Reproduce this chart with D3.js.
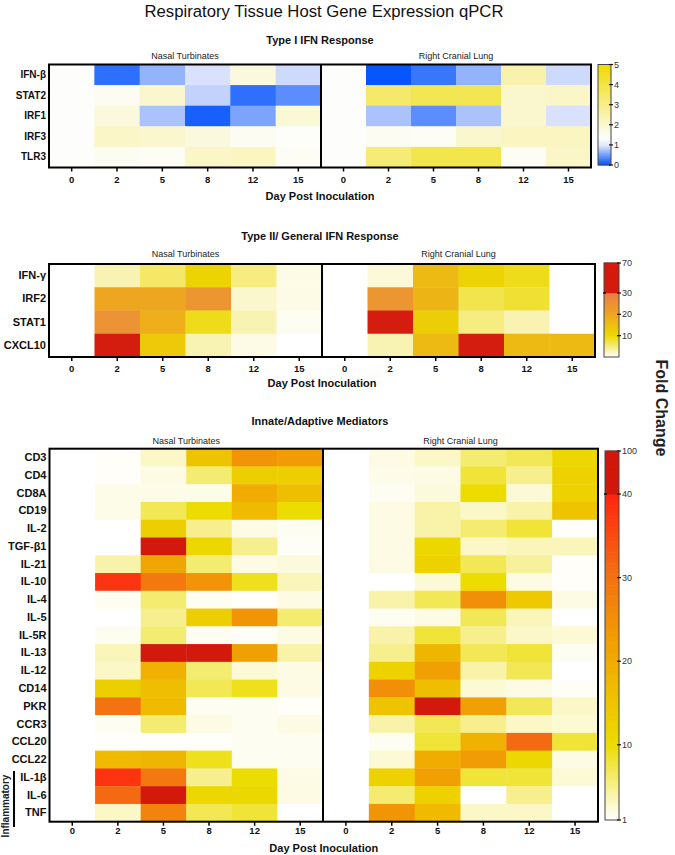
<!DOCTYPE html>
<html><head><meta charset="utf-8">
<script src="https://cdn.jsdelivr.net/npm/d3@7"></script>
<style>body{margin:0;background:#fff}svg{display:block;font-family:"Liberation Sans",Arial,sans-serif}</style>
</head><body><svg id="c" width="675" height="855"></svg>
<script>
// ---------- DATA ----------
const days = ["0","2","5","8","12","15"];
const tissues = ["Nasal Turbinates","Right Cranial Lung"];

const genes1 = ["IFN-β","STAT2","IRF1","IRF3","TLR3"];
const nt1 = [
  [1.35,0.2,0.65,0.95,1.8,0.9],
  [1.35,1.5,2.0,0.85,0.2,0.4],
  [1.35,1.8,0.75,0.1,0.55,1.9],
  [1.35,2.1,2.0,1.8,1.5,1.4],
  [1.35,1.5,1.45,2.1,2.2,1.45]];
const rcl1 = [
  [1.35,0.03,0.25,0.65,2.5,0.9],
  [1.35,3.5,3.8,3.8,2.0,2.1],
  [1.35,0.75,0.4,0.75,2.0,0.95],
  [1.35,1.5,1.45,2.0,2.2,2.2],
  [1.35,3.3,3.9,3.9,1.45,2.1]];
const ticks1 = [0,1,2,3,4,5];

const genes2 = ["IFN-γ","IRF2","STAT1","CXCL10"];
const nt2 = [
  [0,3,6,11,5,1],
  [0,20,20,24,2,1],
  [0,25,18,9,3,0.5],
  [0,45,13,3,1,0]];
const rcl2 = [
  [0,1.5,16,11,9,0],
  [0,24,17,7,8,0],
  [0,45,12,5,3,0],
  [0,3,16,50,16,16]];
const ticks2 = [10,20,30,70];

const genes3 = ["CD3","CD4","CD8A","CD19","IL-2","TGF-β1","IL-21","IL-10","IL-4","IL-5","IL-5R","IL-13","IL-12","CD14","PKR","CCR3","CCL20","CCL22","IL-1β","IL-6","TNF"];
const nt3 = [
  [1,1.2,3,15,24,23],
  [1,1.2,2,6,13,13],
  [1,1.8,1.8,1.8,20,16],
  [1,1.8,7,10,17,10],
  [1,1,13,5,2,1.5],
  [1,1,60,11,5,1.3],
  [1,4,21,6,2,2.2],
  [1,38,29,24,9,3.5],
  [1,1.5,6,1.5,1.2,2],
  [1,1,5,13,24,6],
  [1,1.5,6,1.5,1.3,2],
  [1,3.5,55,55,22,4],
  [1,3,19,6,2.5,2],
  [1,13,16,7,9,2],
  [1,30,17,1.5,1.5,1.2],
  [1,1.5,6,2,1.5,2],
  [1,1.2,1.2,1.2,1.5,1.5],
  [1,17,18,9,1.5,1.5],
  [1,38,29,5,10,2],
  [1,31,55,11,11,2],
  [1,3,27,7,8,1]];
const rcl3 = [
  [1,2,3,6,7,11],
  [1,1.8,2,8,5,12],
  [1,1.5,2.2,10,2.5,12],
  [1,2,4,3,4,15],
  [1,2,4,6,8,1.2],
  [1,2,11,3,3.5,3.5],
  [1,2,12,7,4.5,1.2],
  [1,1,2.5,10,2,1.2],
  [1,4,7,25,14,2],
  [1,1.5,2,7,3.5,1],
  [1,4,8,5,3,2.5],
  [1,5,18,7,8,1.5],
  [1,12,22,4,7,1],
  [1,25,16,2.5,2,1.3],
  [1,15,55,22,7,3],
  [1,4,7,5,3,2.5],
  [1,1.5,8,19,31,8],
  [1,2.5,20,23,11,2],
  [1,12,22,8,8,2.5],
  [1,6,12,1,5,1],
  [1,24,17,3,3,1]];
const ticks3 = [1,10,20,30,40,100];

// ---------- COLOR SCALES ----------
const c1 = d3.scaleLinear().domain([0,1,1.35,5])
  .range(["#0050ff","#e4e9fc","#fdfdfc","#eedb00"]).clamp(true);
const c2base = d3.scaleLinear().domain([0,10,20,30])
  .range(["#ffffff","#ecd800","#eea520","#e8804a"]).clamp(true);
const c2 = v => v > 30 ? "#d51d0f" : c2base(v);
const c3base = d3.scaleLinear().domain([1,10,20,30,40])
  .range(["#ffffff","#ecdc00","#f0ac00","#f37212","#ff2410"]).clamp(true);
const c3 = v => v > 40 ? "#d2190c" : c3base(v);

const svg = d3.select("#c");

svg.append("text").attr("x",324).attr("y",17).attr("text-anchor","middle")
  .attr("font-size",16.7).attr("fill","#111").text("Respiratory Tissue Host Gene Expression qPCR");

function drawPanel(p){
  const g = svg.append("g");
  const y = d3.scaleBand().domain(p.genes).range([p.y0,p.y1]);
  const xs = [
    d3.scaleBand().domain(days).range([p.x0,p.xm]),
    d3.scaleBand().domain(days).range([p.xm,p.x1])];
  [p.nt,p.rcl].forEach((mat,ti)=>{
    const x = xs[ti];
    const cells = [];
    mat.forEach((row,ri)=>row.forEach((v,ci)=>cells.push({gene:p.genes[ri],day:days[ci],v})));
    g.append("g").selectAll("rect").data(cells).join("rect")
      .attr("x",d=>x(d.day)).attr("y",d=>y(d.gene))
      .attr("width",x.bandwidth()+0.4).attr("height",y.bandwidth()+0.4)
      .attr("fill",d=>p.color(d.v));
    g.append("text").attr("x",(x.range()[0]+x.range()[1])/2).attr("y",p.subY)
      .attr("text-anchor","middle").attr("font-size",9).attr("fill","#222").text(tissues[ti]);
    const ax = g.append("g").attr("transform",`translate(0,${p.y1})`)
      .call(d3.axisBottom(x).tickSize(4).tickPadding(p.tickPad).tickSizeOuter(0));
    ax.select(".domain").remove();
    ax.selectAll("line").attr("stroke","#000").attr("stroke-width",1.5);
    ax.selectAll("text").attr("font-size",9.5).attr("font-weight","bold").attr("fill","#111")
      .attr("font-family","Liberation Sans, Arial, sans-serif");
  });
  const ay = g.append("g").attr("transform",`translate(${p.x0},0)`)
    .call(d3.axisLeft(y).tickSize(0).tickPadding(3));
  ay.select(".domain").remove();
  ay.selectAll("text").attr("font-size",p.ls).attr("font-weight","bold").attr("fill","#111")
    .attr("font-family","Liberation Sans, Arial, sans-serif");
  g.append("rect").attr("x",p.x0).attr("y",p.y0).attr("width",p.x1-p.x0).attr("height",p.y1-p.y0)
    .attr("fill","none").attr("stroke","#000").attr("stroke-width",2);
  g.append("line").attr("x1",p.xm).attr("x2",p.xm).attr("y1",p.y0).attr("y2",p.y1)
    .attr("stroke","#000").attr("stroke-width",2);
  g.append("text").attr("x",320).attr("y",p.titleY).attr("text-anchor","middle")
    .attr("font-size",11).attr("font-weight","bold").attr("fill","#111").text(p.title);
  g.append("text").attr("x",(p.x0+p.x1)/2).attr("y",p.xtY).attr("text-anchor","middle")
    .attr("font-size",11).attr("font-weight","bold").attr("fill","#111").text("Day Post Inoculation");
}

function drawBar(b){
  const g = svg.append("g");
  const pos = d3.scaleLinear().domain(b.domain).range(b.range);
  const lo = b.domain[0], hi = b.domain[b.domain.length-1];
  const n = 300;
  const vals = d3.range(n).map(i=>lo+(hi-lo)*i/n);
  const step = (hi-lo)/n;
  g.selectAll("rect.s").data(vals).join("rect").attr("class","s")
    .attr("x",b.x).attr("width",b.w)
    .attr("y",v=>pos(Math.min(v+step,hi))-0.3)
    .attr("height",v=>Math.abs(pos(v)-pos(Math.min(v+step,hi)))+0.6)
    .attr("fill",v=>b.color(v+step/2));
  g.append("rect").attr("x",b.x).attr("y",pos(hi)).attr("width",b.w).attr("height",pos(lo)-pos(hi))
    .attr("fill","none").attr("stroke","#444").attr("stroke-width",1);
  g.selectAll("line.t").data(b.ticks).join("line").attr("class","t")
    .attr("x1",b.x+b.w-2).attr("x2",b.x+b.w+2).attr("y1",pos).attr("y2",pos)
    .attr("stroke","#111").attr("stroke-width",1.2);
  if(b.breakAt!==undefined){
    g.append("line").attr("x1",b.x-1).attr("x2",b.x+2).attr("y1",pos(b.breakAt)).attr("y2",pos(b.breakAt))
      .attr("stroke","#111").attr("stroke-width",1.5);
  }
  g.selectAll("text").data(b.ticks).join("text")
    .attr("x",b.x+b.w+3).attr("y",pos).attr("dy","0.35em")
    .attr("font-size",9).attr("fill","#333").text(d=>d);
}

drawPanel({genes:genes1,nt:nt1,rcl:rcl1,color:c1,x0:49,xm:321,x1:591,y0:64.5,y1:167.5,
  ls:10,tickPad:5,title:"Type I IFN Response",titleY:44,subY:59,xtY:200});
drawBar({x:598,w:13,domain:[0,5],range:[165,64.5],color:c1,ticks:ticks1});

drawPanel({genes:genes2,nt:nt2,rcl:rcl2,color:c2,x0:49,xm:322,x1:595,y0:264,y1:357,
  ls:11,tickPad:4,title:"Type II/ General IFN Response",titleY:240,subY:257,xtY:387});
drawBar({x:604,w:15,domain:[0,30,70],range:[357,293,263],color:c2,ticks:ticks2,breakAt:30});

drawPanel({genes:genes3,nt:nt3,rcl:rcl3,color:c3,x0:49.5,xm:323,x1:598,y0:448.7,y1:821.7,
  ls:11,tickPad:2,title:"Innate/Adaptive Mediators",titleY:425,subY:444,xtY:852});
drawBar({x:605,w:14,domain:[1,40,100],range:[820,494,451],color:c3,ticks:ticks3,breakAt:40});

svg.append("text").attr("transform","translate(656,408) rotate(90)").attr("text-anchor","middle")
  .attr("font-size",16).attr("font-weight","bold").attr("fill","#222").text("Fold Change");

svg.append("line").attr("x1",14).attr("x2",14).attr("y1",771).attr("y2",827)
  .attr("stroke","#000").attr("stroke-width",2);
svg.append("text").attr("transform","translate(9,806) rotate(-90)").attr("text-anchor","middle")
  .attr("font-size",10).attr("font-weight","bold").attr("fill","#222").text("Inflammatory");
</script></body></html>
